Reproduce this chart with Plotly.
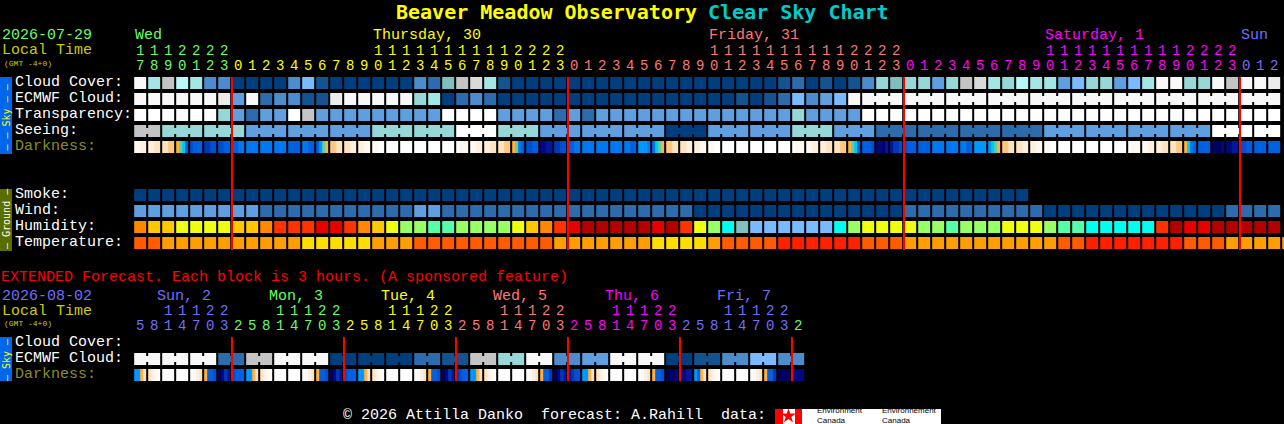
import plotly.graph_objects as go

W, H = 1284, 424
MONO = "Liberation Mono"
TITLE_FONT = "DejaVu Sans Mono"

# ---------- data ----------
PALETTE = {
    "A": "#003F7F", "B": "#13538F", "C": "#2C6CAC", "D": "#4C8CCC", "E": "#5F9FE0",
    "F": "#7ABAFF", "G": "#97D7D7", "H": "#7FBFBF", "I": "#A3E6E6", "J": "#B8F8F8",
    "K": "#C4C4C4", "L": "#D9D9D9", "M": "#ECECEC", "S": "#F8F8F8", "W": "#FFFFFF",
    "Q": "#55FFAA", "N": "#99FF66", "T": "#00FFEE", "U": "#EEFF11", "Y": "#FFC800",
    "O": "#FF8800", "R": "#FF3300", "X": "#E60000", "Z": "#B30000",
    "P": "#FF5C00", "V": "#FF9E00", "1": "#FFDD00", "2": "#FF2000",
    "a": "#FFFFFF", "b": "#FFF8F0", "c": "#FFEFDD", "d": "#FFE2C0", "e": "#FFC880",
    "f": "#FFB040", "g": "#60D0A0", "h": "#00C8F0", "i": "#0098FF", "j": "#0078F0",
    "k": "#0060E0", "l": "#0050D0", "m": "#0038B8", "n": "#0018A0", "o": "#000880",
    "p": "#000060",
}

cloud_cover = "SIKJIDDAAA ADFBAAAAAA DCHKLIBAAA AAAAAAAAAA AAAAAABCAB ABDGHGGEGK LIGJIIEFGG EFISSGGSKS SM"
ecmwf_cloud = "SSSSSSMESC DDBBMSSSSS GIACDCAAAA AAAAAAAAAA AAABABCFDE FSSSSSSSSS SSSSSSSSSS SSSSSSSSSS SS"
transparency = "WWWWWWGECE EWKEEEEEEE EEWWWWEEEE CECEEEEEEE EEEEEEEGEE EEWWWWWWWW WWWWWWWWWW WWWWWWWWWW WW"
seeing = "KKGGGGGGEE EEEEEEEGGG GGGWWWGGGE EEEEEEEEAA AEEEEEEGGG EEECCCCCCC CCCCCEEEEE EEEEEEEWWW WW"
smoke = "AAAAAAAAAA AAAAAAAAAA AAAAAAAAAA AAAAAAAAAA AAAAAAAAAA AAAAAAAAAA AAAA"
wind = "EEEEEEEEEC CCCCCCCCCC EECCCCCCCC CCCCCCCCCC AAAAAAAAAA AAAAACCCCC CCCCCAAAAA AAAAAAAACC CC"
humidity = "OYYUUUUYYO RRRXXROYUN NQQNNNNUYO RXZZZZZXZR UNTHFFFFFF TNUUUUNNQN NNUUUNQQTT TTTRZXXZZZ ZZ"
temperature = "PPVVVVVVVV VV11111VVV PPPPPPPPPP VVVVVVV111 1VPPPP2222 22PPPVVVVV VVVVVVPP22 22222PPPVV VVVV"

darkness = ("bbcc ccdd ddee fghk lkkk mmll llkk kkjj jjjj jjjj jjjj kkkk jjkk kigf eedd ddcc ccbb bbaa "
            "aaaa aaaa aaaa aaaa aaaa abbb bbcc ccdd ddee fgjk llkk oonn mmll kkjj jjjj jjjj jjjj jjkk "
            "iiij jhgf eedd ddcc ccbb bbaa aaaa aaaa aaaa aaaa aaaa abbb bbcc ccdd ddee fghk kkkl oopn "
            "nmml lkkk kkkk jjjj jjjj jjkk iiii ihgf eedd ddcc ccbb bbaa aaaa aaaa aaaa aaaa aaaa abbb "
            "bbcc ccdd ddee fhjk kkkk pppo oonn llkk kkkk kkkk")

ext_ecmwf = "SSSSSSCCKK SSSSAAAAAA CCBBKKGGSS DDEESSSSAA BBDDFFDD"
ext_darkness = ("iifd dcba aaaa aaaa abcd fkkl pomn lkkk iifd dcba aaaa aaaa abcd fkkl pomn lkkk "
                "iifd dcba aaaa aaaa abcd fkkl pomn mlkk iifd dcba aaaa aaaa abcd fkkm pomn nmll "
                "iifd dcba aaaa aaaa abcd fkkl pppo oonn ikfd dcba aaaa aaaa abcd fkkm pppp oooo")

seeing_groups = [2] + [3] * 26 + [2]
ecmwf_groups = [1] * 52 + [3] * 10
ext_ecmwf_groups = [2] * 24

hours_main = [17, 18, 19, 20, 21, 22, 23,
              0, 1, 2, 3, 4, 5, 6, 7, 8, 9, 10, 11, 12, 13, 14, 15, 16, 17, 18, 19, 20, 21, 22, 23,
              0, 1, 2, 3, 4, 5, 6, 7, 8, 9, 10, 11, 12, 13, 14, 15, 16, 17, 18, 19, 20, 21, 22, 23,
              0, 1, 2, 3, 4, 5, 6, 7, 8, 9, 10, 11, 12, 13, 14, 15, 16, 17, 18, 19, 20, 21, 22, 23,
              0, 1, 2]
hours_ext = [5, 8, 11, 14, 17, 20, 23,
             2, 5, 8, 11, 14, 17, 20, 23,
             2, 5, 8, 11, 14, 17, 20, 23,
             2, 5, 8, 11, 14, 17, 20, 23,
             2, 5, 8, 11, 14, 17, 20, 23,
             2, 5, 8, 11, 14, 17, 20, 23,
             2]
GREEN, YELLOW, SALMON, MAGENTA, BLUE = "#66FF66", "#FFFF00", "#FF7777", "#FF00FF", "#7070FF"
day_main = [GREEN, YELLOW, SALMON, MAGENTA, BLUE]
day_ext = [BLUE, GREEN, YELLOW, SALMON, MAGENTA, BLUE, GREEN]
days_main = [("Wed", 0, GREEN), ("Thursday, 30", 17, YELLOW), ("Friday, 31", 41, SALMON),
             ("Saturday, 1", 65, MAGENTA), ("Sun", 79, BLUE)]
days_ext = [("Sun, 2", 1.6, BLUE), ("Mon, 3", 9.6, GREEN), ("Tue, 4", 17.6, YELLOW),
            ("Wed, 5", 25.6, SALMON), ("Thu, 6", 33.6, MAGENTA), ("Fri, 7", 41.6, BLUE)]
midnights_main = [6.561, 30.561, 54.561, 78.561]
midnights_ext = [6.561, 14.561, 22.561, 30.561, 38.561, 46.561]

# ---------- scale helpers ----------
codes = list(PALETTE)
index = {c: i for i, c in enumerate(codes)}
scale = [[i / (len(codes) - 1), PALETTE[c]] for i, c in enumerate(codes)]
X0, PITCH, Y0, ROW = 140.15, 14.0, 83.0, 16.0


def py(px):
    return (px - Y0) / ROW


def clean(s):
    return s.replace(" ", "")


def grid(rows, ys):
    n = max(len(clean(r)) for r in rows)
    z = [[index[c] for c in clean(r)] + [None] * (n - len(clean(r))) for r in rows]
    return go.Heatmap(z=z, x=list(range(n)), y=ys, xgap=2, ygap=4, zmin=0, zmax=len(codes) - 1,
                      colorscale=scale, showscale=False, hoverinfo="skip")


def dark_strip(cells, y):
    z, xs = [], []
    for i, cell in enumerate(cells.split()):
        line = [None] + [index[c] for c in cell for _ in range(3)] + [None]
        z.extend(line)
        xs.extend(i - 0.5 + (j + 0.5) / 14 for j in range(14))
    return go.Heatmap(z=[z], x=xs, y=[y], ygap=4, zmin=0, zmax=len(codes) - 1,
                      colorscale=scale, showscale=False, hoverinfo="skip")


def connectors(row, groups, y):
    row = clean(row)
    segs, col = {}, 0
    for g in groups:
        for k in range(g - 1):
            seg = segs.setdefault(row[col + k], ([], []))
            seg[0].extend([col + k + 0.35, col + k + 0.65, None])
            seg[1].extend([y, y, None])
        col += g
    return [go.Scatter(x=v[0], y=v[1], mode="lines", line=dict(color=PALETTE[c], width=6),
                       hoverinfo="skip", showlegend=False) for c, v in segs.items()]


def digits(hours, colors, starts, y_tens, y_ones):
    xs, ys, txt, col = [], [], [], []
    for i, h in enumerate(hours):
        c = colors[sum(1 for s in starts if i >= s)]
        if h >= 10:
            xs.append(i); ys.append(y_tens); txt.append(str(h // 10)); col.append(c)
        xs.append(i); ys.append(y_ones); txt.append(str(h % 10)); col.append(c)
    return go.Scatter(x=xs, y=ys, text=txt, mode="text", textposition="middle center",
                      textfont=dict(family=MONO, size=14, color=col), hoverinfo="skip", showlegend=False)


def red_lines(xs, y0, y1):
    px, pyy = [], []
    for x in xs:
        px += [x, x, None]
        pyy += [py(y0), py(y1), None]
    return go.Scatter(x=px, y=pyy, mode="lines", line=dict(color="#FF0000", width=2),
                      hoverinfo="skip", showlegend=False)


fig = go.Figure()
fig.add_trace(grid([cloud_cover, ecmwf_cloud, transparency, seeing], [0, 1, 2, 3]))
fig.add_trace(dark_strip(darkness, 4))
fig.add_trace(grid([smoke, wind, humidity, temperature], [7, 8, 9, 10]))
fig.add_trace(grid([ext_ecmwf], [py(359)]))
fig.add_trace(dark_strip(ext_darkness, py(375)))
for t in connectors(seeing, seeing_groups, 3):
    fig.add_trace(t)
for t in connectors(ecmwf_cloud, ecmwf_groups, 1):
    fig.add_trace(t)
for t in connectors(ext_ecmwf, ext_ecmwf_groups, py(359)):
    fig.add_trace(t)
fig.add_trace(red_lines(midnights_main, 77, 250))
fig.add_trace(red_lines(midnights_ext, 337, 381))
fig.add_trace(digits(hours_main, day_main, [7, 31, 55, 79], py(51), py(66)))
fig.add_trace(digits(hours_ext, day_ext, [7, 15, 23, 31, 39, 47], py(311), py(326)))
# maple leaf on the logo
fig.add_trace(go.Scatter(x=[(788.5 - X0) / PITCH], y=[py(416)], mode="markers",
                         marker=dict(symbol="star", size=11, color="#FF0000"),
                         hoverinfo="skip", showlegend=False))

ann = []


def text(s, x, y, color, size=15, bold=False, family=MONO, angle=0, anchor="left"):
    if family == MONO:
        y += 1
    ann.append(dict(text=f"<b>{s}</b>" if bold else s, x=x / W, y=1 - y / H, xref="paper", yref="paper",
                    xanchor=anchor, yanchor="middle", showarrow=False, textangle=angle, borderpad=0,
                    align="left", font=dict(family=family, size=size, color=color)))


text("Beaver Meadow Observatory", 395, 12, "#FFFF00", 20, True, family=TITLE_FONT)
text("Clear Sky Chart", 707, 12, "#00CCCC", 20, True, family=TITLE_FONT)
text("2026-07-29", 1, 35, GREEN)
text("Local Time", 1, 50, "#CCCC00")
text("(GMT -4+0)", 3, 62, "#CCCC00", 8)
for s, y in [("Cloud Cover:", 81.5), ("ECMWF Cloud:", 97.5), ("Transparency:", 113.5), ("Seeing:", 129.5)]:
    text(s, 13.5, y, "#FFFFFF")
text("Darkness:", 13.5, 145.5, "#8C8C2A")
for s, y in [("Smoke:", 193.5), ("Wind:", 209.5), ("Humidity:", 225.5), ("Temperature:", 241.5)]:
    text(s, 13.5, y, "#FFFFFF")
text("EXTENDED Forecast. Each block is 3 hours. (A sponsored feature)", 0, 276, "#FF0000")
text("2026-08-02", 1, 295, BLUE)
text("Local Time", 1, 310, "#CCCC00")
text("(GMT -4+0)", 3, 322, "#CCCC00", 8)
text("Cloud Cover:", 13.5, 341.5, "#FFFFFF")
text("ECMWF Cloud:", 13.5, 357.5, "#FFFFFF")
text("Darkness:", 13.5, 373.5, "#8C8C2A")
for s, col, c in days_main:
    text(s, 134 + col * 14, 35, c)
for s, col, c in days_ext:
    text(s, 134 + col * 14, 295, c)
BAR_FONT = "DejaVu Sans Mono"
text("– – Sky – –", 6, 117.5, "#FFFF00", 10, family=BAR_FONT, angle=-90, anchor="center")
text("– Ground –", 6, 219, "#FFFFFF", 10, family=BAR_FONT, angle=-90, anchor="center")
text("– Sky –", 6, 360, "#FFFF00", 10, family=BAR_FONT, angle=-90, anchor="center")
text("© 2026 Attilla Danko  forecast: A.Rahill  data:".replace(" ", "\u00a0"), 342, 414.5, "#FFFFFF")
SANS = "Liberation Sans"
text("Environment<br>Canada", 816, 415, "#000000", 8, family=SANS)
text("Environnement<br>Canada", 881, 415, "#000000", 8, family=SANS)


def rect(x0, x1, y0, y1, color, layer="below"):
    return dict(type="rect", xref="paper", yref="paper", x0=x0 / W, x1=x1 / W, y0=1 - y1 / H, y1=1 - y0 / H,
                fillcolor=color, line=dict(width=0), layer=layer)


shapes = [
    rect(0, 12, 77, 154, "#0066EE"),
    rect(0, 12, 189, 251, "#5A6E00"),
    rect(0, 12, 337, 381, "#0066EE"),
    rect(775, 941, 409, 424, "#FFFFFF"),
    rect(775, 783, 409, 424, "#FF0000"),
    rect(795, 802, 409, 424, "#FF0000"),
]

fig.update_layout(
    width=W, height=H, margin=dict(l=0, r=0, t=0, b=0), autosize=False,
    paper_bgcolor="#000000", plot_bgcolor="#000000", showlegend=False,
    xaxis=dict(range=[-X0 / PITCH, (W - X0) / PITCH], visible=False, fixedrange=True),
    yaxis=dict(range=[(H - Y0) / ROW, -Y0 / ROW], visible=False, fixedrange=True),
    annotations=ann, shapes=shapes,
)
fig.write_html("out.html", config=dict(displayModeBar=False),
               post_script="document.body.style.margin='0';document.body.style.background='#000';")
